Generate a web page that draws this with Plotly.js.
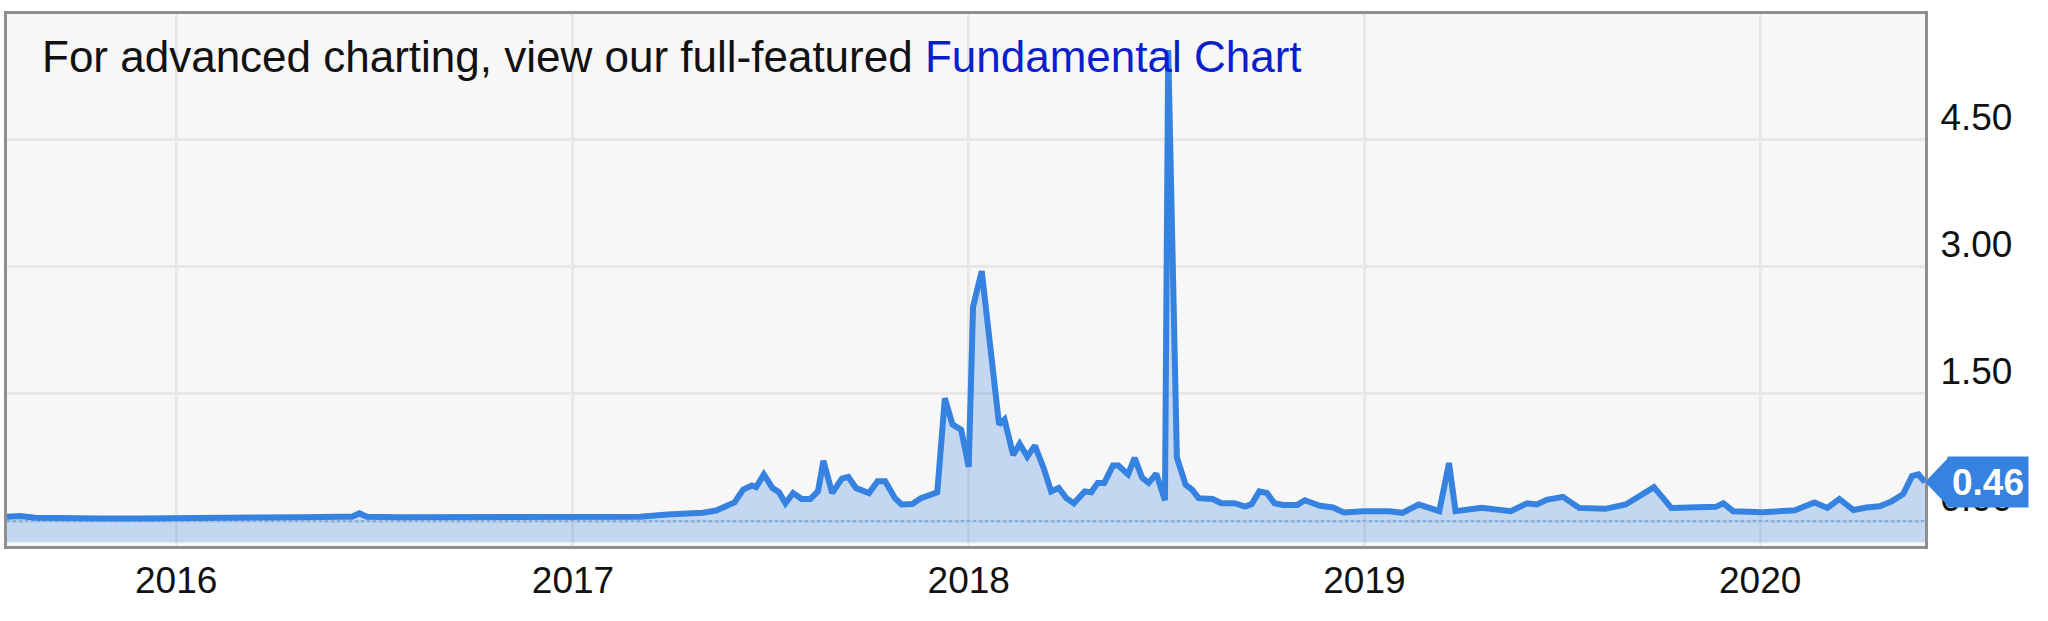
<!DOCTYPE html>
<html>
<head>
<meta charset="utf-8">
<script src="https://cdn.plot.ly/plotly-3.0.1.min.js"></script>
<style>
  html, body { margin: 0; padding: 0; background: #ffffff; }
  #chart { width: 2048px; height: 621px; }
</style>
</head>
<body>
<div id="chart"></div>
<script>
// ---- data ----
const dates = [
  '2015-07-29','2015-08-10','2015-08-24','2015-09-16','2015-10-23','2015-11-29',
  '2016-01-01','2016-02-10','2016-03-18','2016-04-24','2016-05-31','2016-06-11',
  '2016-06-18','2016-06-25','2016-07-26','2016-09-10','2016-10-17','2016-11-22',
  '2017-01-02','2017-02-04','2017-03-04','2017-03-29','2017-05-01','2017-05-13',
  '2017-05-22','2017-05-30','2017-06-07','2017-06-15','2017-06-19','2017-06-26',
  '2017-07-04','2017-07-10','2017-07-16','2017-07-23','2017-07-31','2017-08-08',
  '2017-08-15','2017-08-20','2017-08-28','2017-09-06','2017-09-12','2017-09-19',
  '2017-10-01','2017-10-05','2017-10-09','2017-10-16','2017-10-25','2017-10-31',
  '2017-11-10','2017-11-18','2017-12-03','2017-12-10','2017-12-17','2017-12-25',
  '2018-01-01','2018-01-05','2018-01-13','2018-01-29','2018-02-03','2018-02-11',
  '2018-02-17','2018-02-24','2018-03-03','2018-03-11','2018-03-18','2018-03-25',
  '2018-04-01','2018-04-08','2018-04-18','2018-04-24','2018-04-30','2018-05-06',
  '2018-05-14','2018-05-19','2018-05-28','2018-06-03','2018-06-10','2018-06-16',
  '2018-06-23','2018-07-01','2018-07-04','2018-07-12','2018-07-20','2018-07-26',
  '2018-08-01','2018-08-14','2018-08-22','2018-09-03','2018-09-13','2018-09-19',
  '2018-09-26','2018-10-03','2018-10-10','2018-10-18','2018-10-31','2018-11-07',
  '2018-11-21','2018-12-03','2018-12-13','2018-12-31','2019-01-24','2019-02-05',
  '2019-02-20','2019-03-11','2019-03-20','2019-03-26','2019-04-19','2019-05-16',
  '2019-05-31','2019-06-09','2019-06-18','2019-07-03','2019-07-18','2019-08-11',
  '2019-08-30','2019-09-11','2019-09-25','2019-10-11','2019-11-21','2019-11-28',
  '2019-12-07','2020-01-03','2020-02-02','2020-02-20','2020-03-03','2020-03-14',
  '2020-03-27','2020-04-08','2020-04-20','2020-05-01','2020-05-12','2020-05-20',
  '2020-05-26','2020-06-01'
];
const values = [
  0.05, 0.06, 0.04, 0.03, 0.03, 0.03,
  0.03, 0.035, 0.04, 0.045, 0.05, 0.05,
  0.09, 0.05, 0.045, 0.045, 0.05, 0.045,
  0.045, 0.045, 0.05, 0.077, 0.097, 0.124,
  0.17, 0.22, 0.37, 0.42, 0.40, 0.55,
  0.39, 0.34, 0.21, 0.33, 0.26, 0.26,
  0.35, 0.71, 0.33, 0.50, 0.52, 0.39,
  0.33, 0.41, 0.47, 0.47, 0.27, 0.195,
  0.20, 0.27, 0.34, 1.45, 1.14, 1.08,
  0.64, 2.53, 2.95, 1.14, 1.20, 0.78,
  0.91, 0.76, 0.89, 0.63, 0.35, 0.39,
  0.27, 0.21, 0.35, 0.34, 0.45, 0.45,
  0.655, 0.655, 0.55, 0.745, 0.51, 0.45,
  0.56, 0.245, 5.56, 0.75, 0.43, 0.37,
  0.27, 0.26, 0.21, 0.21, 0.17, 0.20,
  0.35, 0.33, 0.21, 0.19, 0.19, 0.245,
  0.18, 0.16, 0.10, 0.116, 0.116, 0.097,
  0.195, 0.116, 0.685, 0.116, 0.155, 0.116,
  0.21, 0.195, 0.25, 0.285, 0.155, 0.144,
  0.195, 0.29, 0.40, 0.155, 0.167, 0.21,
  0.116, 0.104, 0.127, 0.22, 0.155, 0.26,
  0.13, 0.16, 0.175, 0.23, 0.32, 0.53,
  0.55, 0.46
];
const yTickVals = [0, 1.5, 3, 4.5];
const yTickText = ['0.00', '1.50', '3.00', '4.50'];
const xTickVals = ['2016-01-01', '2017-01-01', '2018-01-01', '2019-01-01', '2020-01-01'];
const xTickText = ['2016', '2017', '2018', '2019', '2020'];
const titleBlack = 'For advanced charting, view our full-featured ';
const titleLink = 'Fundamental Chart';

// ---- styling / axis setup ----
const xRange = ['2015-07-29', '2020-06-01'];
const yRange = [-0.295, 5.986];
const fillBase = -0.25;
const lineColor = '#3682e0';
const fontFam = '"Liberation Sans", Arial, Helvetica, sans-serif';
const lastVal = values[values.length - 1];

const baseTrace = {
  x: [dates[0], dates[dates.length - 1]],
  y: [fillBase, fillBase],
  type: 'scatter', mode: 'lines',
  line: { width: 0, color: 'rgba(0,0,0,0)' },
  hoverinfo: 'skip', showlegend: false
};
const mainTrace = {
  x: dates, y: values,
  type: 'scatter', mode: 'lines',
  line: { color: lineColor, width: 6 },
  fill: 'tonexty',
  fillcolor: 'rgba(54,130,224,0.27)',
  showlegend: false
};

const layout = {
  width: 2048, height: 621,
  margin: { l: 7, r: 123, t: 14, b: 75, pad: 0 },
  paper_bgcolor: '#ffffff',
  plot_bgcolor: '#f7f7f7',
  showlegend: false,
  font: { family: fontFam, color: '#000000' },
  xaxis: {
    type: 'date',
    range: xRange,
    tickvals: xTickVals,
    ticktext: xTickText,
    tickfont: { size: 37, color: '#111111', family: fontFam },
    ticks: '',
    ticklabelstandoff: 0,
    showgrid: true, gridcolor: '#e8e8e8', gridwidth: 3,
    showline: true, linecolor: '#8f8f8f', linewidth: 3, mirror: true,
    zeroline: false, fixedrange: true
  },
  yaxis: {
    range: yRange,
    side: 'right',
    tickvals: yTickVals,
    ticktext: yTickText,
    tickfont: { size: 37, color: '#111111', family: fontFam },
    ticks: '',
    ticklabelstandoff: 5,
    ticklabelshift: -23,
    showgrid: true, gridcolor: '#e8e8e8', gridwidth: 3,
    showline: true, linecolor: '#8f8f8f', linewidth: 3, mirror: true,
    zeroline: false, fixedrange: true
  },
  shapes: [
    {
      type: 'line', xref: 'paper', yref: 'y',
      x0: 0, x1: 1, y0: 0, y1: 0,
      line: { color: 'rgba(54,130,224,0.55)', width: 1.5, dash: 'dot' },
      layer: 'above'
    },
    {
      type: 'path', xref: 'paper', yref: 'y',
      xsizemode: 'pixel', ysizemode: 'pixel',
      xanchor: 1, yanchor: lastVal,
      path: 'M0,0 L24,25 L24,-25 Z',
      fillcolor: lineColor, line: { width: 0 },
      layer: 'above'
    }
  ],
  annotations: [
    {
      xref: 'paper', yref: 'paper', x: 0, y: 1,
      xanchor: 'left', yanchor: 'top',
      xshift: 33, yshift: -16,
      showarrow: false,
      text: titleBlack + '<span style="color:#0a1fcc">' + titleLink + '</span>',
      font: { size: 44, color: '#111111', family: fontFam },
      align: 'left'
    },
    {
      xref: 'paper', yref: 'y', x: 1, y: lastVal,
      xanchor: 'center', yanchor: 'middle',
      xshift: 63, yshift: 0,
      showarrow: false,
      text: '<b>' + lastVal.toFixed(2) + '</b>',
      font: { size: 37, color: '#ffffff', family: fontFam },
      bgcolor: lineColor,
      width: 80, height: 50,
      borderpad: 0,
      align: 'center'
    }
  ]
};

Plotly.newPlot('chart', [baseTrace, mainTrace], layout, { staticPlot: true, displayModeBar: false });
</script>
</body>
</html>
